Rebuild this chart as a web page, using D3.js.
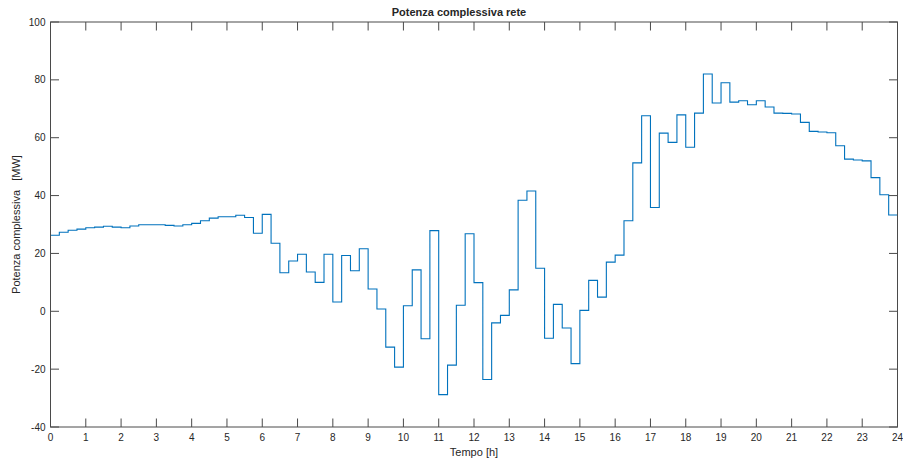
<!DOCTYPE html>
<html>
<head>
<meta charset="utf-8">
<script src="https://cdn.jsdelivr.net/npm/d3@7"></script>
<style>
  body { margin: 0; background: #fff; }
  text { font-family: "Liberation Sans", Helvetica, Arial, sans-serif; fill: #262626; }
</style>
</head>
<body>
<svg id="chart" width="903" height="461"></svg>
<script>
// potenza complessiva, un valore ogni quarto d'ora (96 campioni)
const power = [
  26.3, 27.3, 28.0, 28.4, 28.9, 29.1, 29.4, 29.1, 28.9, 29.5, 29.9, 29.9,
  29.9, 29.7, 29.5, 29.9, 30.4, 31.3, 32.2, 32.7, 32.7, 33.2, 32.4, 27.0,
  33.5, 23.5, 13.3, 17.4, 19.7, 13.6, 10.0, 19.7, 3.2, 19.3, 14.0, 21.6,
  7.7, 0.8, -12.4, -19.3, 1.9, 14.3, -9.5, 27.9, -28.8, -18.6, 2.1, 26.8,
  9.9, -23.6, -4.0, -1.4, 7.4, 38.4, 41.6, 14.9, -9.3, 2.4, -5.8, -18.1,
  0.3, 10.7, 4.9, 17.0, 19.4, 31.3, 51.3, 67.6, 35.9, 61.6, 58.4, 67.9,
  56.7, 68.5, 82.0, 72.0, 79.0, 72.3, 72.8, 71.4, 72.8, 70.6, 68.5, 68.4,
  68.2, 65.3, 62.2, 62.0, 61.7, 57.2, 52.6, 52.3, 52.0, 46.2, 40.3, 33.3
];
const stepHours = 0.25;
const xTicks = d3.range(0, 25, 1);
const yTicks = [-40, -20, 0, 20, 40, 60, 80, 100];

const svg = d3.select('#chart');
const margin = { left: 50.5, right: 5.5, top: 22, bottom: 34 };
const width = +svg.attr('width');
const height = +svg.attr('height');

const x = d3.scaleLinear().domain([0, 24]).range([margin.left, width - margin.right]);
const y = d3.scaleLinear().domain([-40, 100]).range([height - margin.bottom, margin.top]);

// punti per la linea a gradini (ultimo gradino chiuso a 24 h)
const points = power.map((v, i) => [i * stepHours, v]);
points.push([24, power[power.length - 1]]);

const tickLen = 8.5;
const axisColor = '#4a4a4a';

// linea
svg.append('path')
  .datum(points)
  .attr('fill', 'none')
  .attr('stroke', '#0072BD')
  .attr('stroke-width', 1.1)
  .attr('d', d3.line().x(d => x(d[0])).y(d => y(d[1])).curve(d3.curveStepAfter));

// assi: ticks interni su tutti e quattro i lati (stile box on)
const axes = svg.append('g').attr('stroke', axisColor).attr('stroke-width', 1);
axes.selectAll('line.xt').data(xTicks).enter().append('line')
  .attr('x1', d => x(d)).attr('x2', d => x(d))
  .attr('y1', y(-40)).attr('y2', y(-40) - tickLen);
axes.selectAll('line.xtt').data(xTicks).enter().append('line')
  .attr('x1', d => x(d)).attr('x2', d => x(d))
  .attr('y1', y(100)).attr('y2', y(100) + tickLen);
axes.selectAll('line.yt').data(yTicks).enter().append('line')
  .attr('x1', x(0)).attr('x2', x(0) + tickLen)
  .attr('y1', d => y(d)).attr('y2', d => y(d));
axes.selectAll('line.ytr').data(yTicks).enter().append('line')
  .attr('x1', x(24)).attr('x2', x(24) - tickLen)
  .attr('y1', d => y(d)).attr('y2', d => y(d));
axes.append('rect')
  .attr('x', x(0)).attr('y', y(100))
  .attr('width', x(24) - x(0)).attr('height', y(-40) - y(100))
  .attr('fill', 'none');

// etichette
svg.append('g').selectAll('text').data(xTicks).enter().append('text')
  .attr('x', d => x(d)).attr('y', y(-40) + 14)
  .attr('text-anchor', 'middle').attr('font-size', 10)
  .text(d => d);
svg.append('g').selectAll('text').data(yTicks).enter().append('text')
  .attr('x', x(0) - 5).attr('y', d => y(d) + 3.5)
  .attr('text-anchor', 'end').attr('font-size', 10)
  .text(d => d);

svg.append('text')
  .attr('x', 459).attr('y', 16)
  .attr('text-anchor', 'middle').attr('font-size', 11).attr('font-weight', 'bold')
  .attr('fill', '#000')
  .text('Potenza complessiva rete');
svg.append('text')
  .attr('x', (x(0) + x(24)) / 2).attr('y', 456)
  .attr('text-anchor', 'middle').attr('font-size', 11)
  .text('Tempo [h]');
svg.append('text')
  .attr('transform', `translate(20,${(y(-40) + y(100)) / 2}) rotate(-90)`)
  .attr('text-anchor', 'middle').attr('font-size', 11)
  .attr('xml:space', 'preserve')
  .text('Potenza complessiva   [MW]');
</script>
</body>
</html>
